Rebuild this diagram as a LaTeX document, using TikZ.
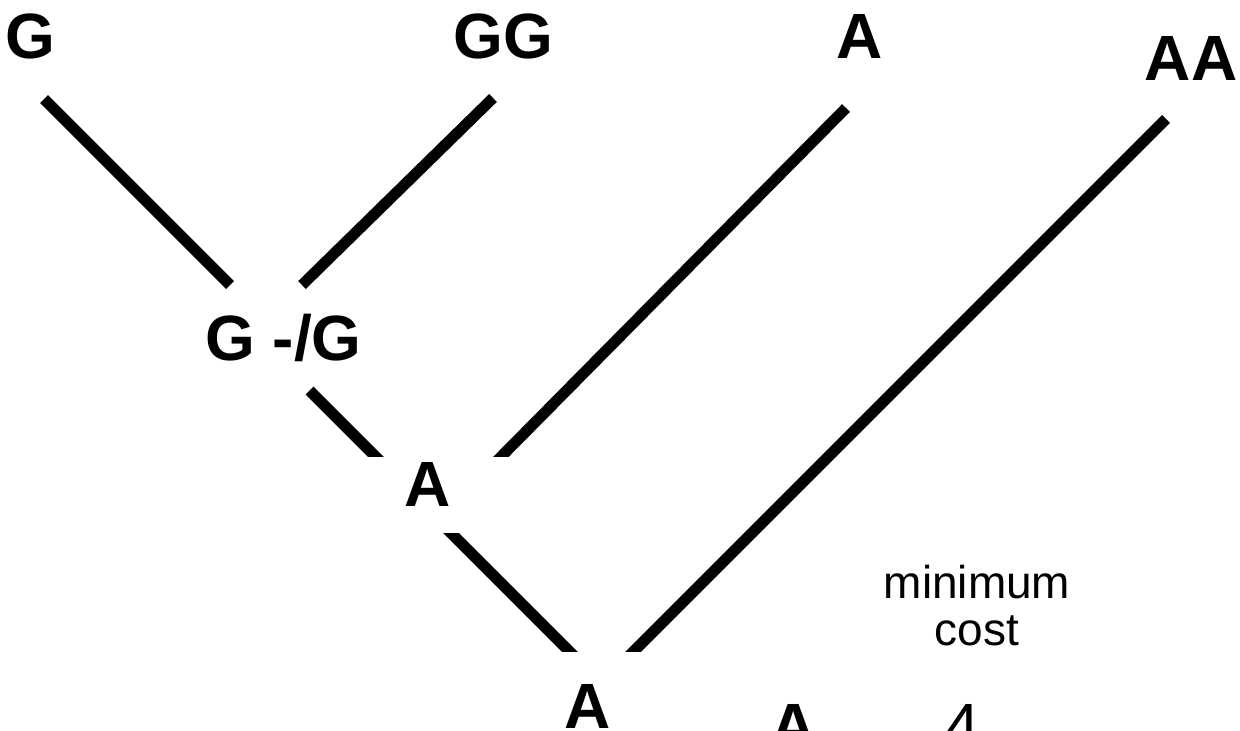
\documentclass[tikz,border=0pt]{standalone}
\usepackage{fontspec}
\setmainfont{Liberation Sans}
\usepackage{tikz}
\usetikzlibrary{positioning}

\begin{document}
\begin{tikzpicture}[
    x=1pt, y=-1pt,
    branch/.style={line width=11pt},
    seq/.style={font=\fontsize{64}{70}\selectfont\bfseries, anchor=base, inner sep=0pt},
    anc/.style={seq, fill=white, text height=49pt, text depth=27pt, minimum width=180pt},
    note/.style={font=\fontsize{46}{47}\selectfont, align=center, anchor=base},
  ]
    \useasboundingbox (0,0) rectangle (1240,731);
    \clip (0,0) rectangle (1240,731);
    % branch ends
    \coordinate (g1) at (44,99);     \coordinate (g2) at (230,285);
    \coordinate (gg1) at (493,98);   \coordinate (gg2) at (302,285);
    \coordinate (m1) at (309.5,390.5); \coordinate (m2) at (400,481);
    \coordinate (a1) at (846,108);   \coordinate (a2) at (481,477);
    \coordinate (b1) at (436,518);   \coordinate (b2) at (585,667);
    \coordinate (aa1) at (1166,119); \coordinate (aa2) at (628,657);
    \draw[branch] (g1) -- (g2);
    \draw[branch] (gg1) -- (gg2);
    \draw[branch] (m1) -- (m2);
    \draw[branch] (a1) -- (a2);
    \draw[branch] (b1) -- (b2);
    \draw[branch] (aa1) -- (aa2);
    % leaves
    \node[seq] (leafG) at (30,58) {G};
    \node[seq] (leafGG) at (503,58) {GG};
    \node[seq] (leafA) at (860,58) {A};
    \node[seq] (leafAA) at (1191,80) {AA};
    % ancestors
    \node[seq] (ancG) at (283.5,360) {G -/G};
    \node[anc] (ancA) at (428,506) {A};
    \node[anc, text height=76pt, text depth=30pt, minimum width=200pt] (root) at (588,728) {A};
    \node[seq] (rootA) at (794,748) {A};
    \node[seq, font=\fontsize{64}{70}\selectfont] (cost) at (962,748) {4};
    \node[note] (mincost) at (977,645) {minimum\\cost};
  \end{tikzpicture}
\end{document}
